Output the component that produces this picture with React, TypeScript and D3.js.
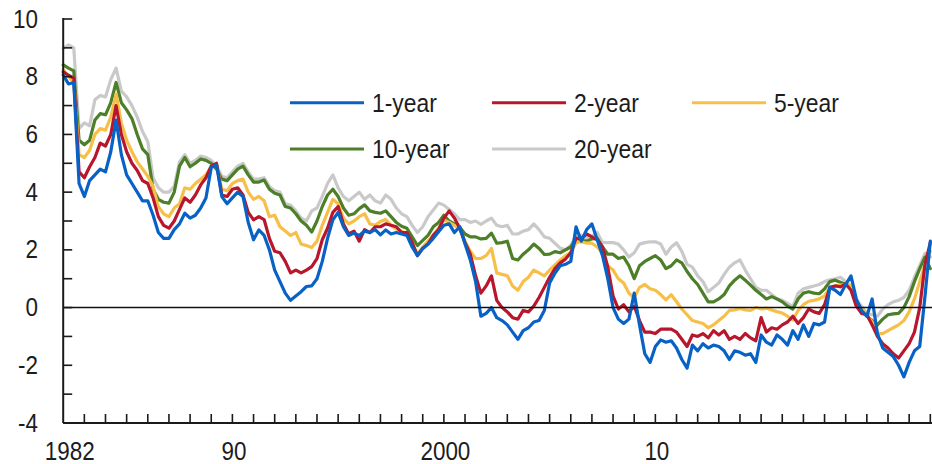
import React from "react";
import * as d3 from "d3";

// Quarterly observations starting 1982 Q1
const START_YEAR = 1982;
const STEP = 0.25;

const oneYear = [
  8.06, 7.75, 7.8, 4.3,
  3.85, 4.4, 4.6, 4.8,
  4.7, 5.4, 6.5, 5.3,
  4.6, 4.3, 4.0, 3.7,
  3.7, 3.2, 2.6, 2.4,
  2.4, 2.7, 2.9, 3.27,
  3.1, 3.2, 3.45, 3.8,
  4.85, 4.95, 3.85, 3.6,
  3.8, 4.0, 3.85, 2.95,
  2.35, 2.69, 2.5, 2.0,
  1.3, 0.9, 0.5, 0.25,
  0.4, 0.55, 0.73, 0.75,
  1.0, 1.6, 2.4, 3.04,
  3.3, 2.8, 2.5, 2.58,
  2.5, 2.65, 2.6, 2.7,
  2.52, 2.69, 2.55, 2.6,
  2.55, 2.5, 2.1, 1.8,
  2.05, 2.2, 2.4, 2.63,
  2.85, 2.9, 2.6, 2.8,
  2.2, 1.65, 0.9, -0.3,
  -0.2, 0.0, -0.35, -0.45,
  -0.6, -0.85, -1.1, -0.8,
  -0.7, -0.5, -0.45, -0.1,
  0.85, 1.19, 1.45, 1.5,
  1.6, 2.8, 2.3, 2.7,
  2.9, 2.35, 1.8, 1.0,
  0.0, -0.4, -0.55, -0.4,
  0.5, -0.6, -1.6, -1.9,
  -1.35, -1.12, -1.2, -1.15,
  -1.4, -1.8, -2.1, -1.3,
  -1.5, -1.25, -1.4, -1.3,
  -1.35, -1.5, -1.8, -1.5,
  -1.55, -1.65, -1.6, -1.9,
  -0.95, -1.2, -1.3, -0.95,
  -1.1, -1.3, -0.8, -1.1,
  -0.6, -1.0, -0.55, -0.6,
  -0.5, 0.7, 0.6, 0.45,
  0.8, 1.1, 0.3, -0.1,
  -0.3, 0.3, -0.9, -1.4,
  -1.55, -1.7, -2.0, -2.4,
  -1.9, -1.5, -1.35, 0.4,
  2.3,
];

const twoYear = [
  8.17, 8.05, 7.95, 4.7,
  4.5, 4.88, 5.2, 5.7,
  5.6, 6.0, 7.0, 6.0,
  5.4, 5.0, 4.75, 4.4,
  4.3, 3.8, 3.15, 2.85,
  2.75, 3.0, 3.4, 3.8,
  3.65, 3.9, 4.25, 4.5,
  4.9, 5.0, 3.9, 3.85,
  4.1, 4.15, 3.9, 3.3,
  3.04, 3.15, 3.05, 2.4,
  1.95, 1.9, 1.6, 1.2,
  1.3, 1.2, 1.3, 1.42,
  1.7, 2.35, 2.75, 3.3,
  3.5, 2.9, 2.55, 2.65,
  2.3, 2.7, 2.6, 2.8,
  2.8, 2.9, 2.85, 2.8,
  2.6, 2.6, 2.25, 1.8,
  2.05, 2.2, 2.5, 2.7,
  3.1, 3.35, 3.1, 2.75,
  2.25, 1.85, 1.1, 0.5,
  0.75, 1.1, 0.25, 0.0,
  -0.15, -0.35, -0.4, -0.1,
  -0.15, 0.05, 0.35, 0.7,
  1.05, 1.35, 1.55, 1.68,
  1.9, 2.4, 2.4, 2.55,
  2.45, 2.35, 2.1, 1.4,
  0.4, -0.05, 0.1, -0.15,
  0.05, -0.45, -0.85, -0.85,
  -0.9, -0.75, -0.75, -0.75,
  -0.85, -1.1, -1.35, -0.95,
  -1.0, -0.9, -1.05, -0.8,
  -0.95, -0.8, -1.1, -1.0,
  -1.1, -0.9, -1.05, -1.15,
  -0.35, -0.85, -0.7, -0.75,
  -0.6, -0.5, -0.3, -0.55,
  -0.35, -0.05, -0.15, -0.2,
  0.1, 0.7, 0.75, 0.72,
  0.82, 0.6, 0.05, -0.2,
  -0.25, -0.6, -1.0, -1.25,
  -1.4, -1.6, -1.75, -1.5,
  -1.25, -0.85, 0.0, 1.5,
  2.25,
];

const fiveYear = [
  8.25, 8.0, 7.8, 5.3,
  5.2, 5.45, 6.0, 6.2,
  6.15, 6.6, 7.4, 6.4,
  5.8, 5.4, 5.05, 4.8,
  4.55, 4.2, 3.5, 3.25,
  3.15, 3.45, 3.6, 4.15,
  4.1, 4.3, 4.45, 4.6,
  4.9, 4.95, 4.1, 4.05,
  4.3, 4.4, 4.45, 4.0,
  3.75, 3.85, 3.7, 3.15,
  3.2, 2.8, 2.65, 2.5,
  2.6, 2.2, 2.15, 2.08,
  2.3, 2.85, 3.3, 3.75,
  3.6, 3.1, 2.9, 3.0,
  3.15, 3.25, 2.9, 2.85,
  2.98, 3.05, 2.85, 2.72,
  2.65, 2.55, 2.2, 1.85,
  2.1, 2.3, 2.52, 2.75,
  3.04, 2.95, 2.85, 2.7,
  2.3, 1.95, 1.7, 1.7,
  1.8, 2.05, 1.2, 1.15,
  1.1, 0.75, 0.6, 0.9,
  1.05, 1.3, 1.2, 1.1,
  1.3, 1.48, 1.65, 1.8,
  1.9, 2.25, 2.28, 2.23,
  2.23, 2.1, 1.9, 1.45,
  1.3, 1.0, 0.85, 0.5,
  0.35, 0.7, 0.8, 0.65,
  0.6, 0.45, 0.27, 0.45,
  0.2, -0.05, -0.25, -0.45,
  -0.5, -0.55, -0.7, -0.6,
  -0.45, -0.3, -0.1, -0.08,
  -0.03, -0.08, -0.1, 0.0,
  -0.05, -0.02, -0.08, -0.14,
  -0.19, -0.3, -0.43, -0.1,
  0.1, 0.22, 0.25, 0.3,
  0.4, 0.7, 0.75, 0.78,
  0.79, 0.75, 0.2, -0.05,
  -0.25, -0.5, -0.9, -0.9,
  -0.8, -0.7, -0.6, -0.45,
  -0.15, 0.3, 0.9, 1.5,
  1.95,
];

const tenYear = [
  8.41, 8.3, 8.2, 5.8,
  5.64, 5.8, 6.5, 6.72,
  6.68, 7.1, 7.8, 7.1,
  6.85, 6.55, 6.0, 5.5,
  5.3, 4.1, 3.75, 3.65,
  3.62, 4.0, 4.9, 5.2,
  4.88, 5.0, 5.15, 5.1,
  5.0, 4.8, 4.45, 4.4,
  4.6, 4.8, 4.9, 4.6,
  4.35, 4.35, 4.42, 4.1,
  3.96, 3.9, 3.5, 3.45,
  3.25, 3.0, 2.85, 2.62,
  3.0, 3.5, 3.9, 4.1,
  3.85, 3.45, 3.2, 3.25,
  3.43, 3.56, 3.35, 3.3,
  3.27, 3.35, 3.15, 2.95,
  2.82, 2.75, 2.45, 2.15,
  2.33, 2.5, 2.8, 2.95,
  3.2, 3.0, 2.9, 2.78,
  2.55, 2.45, 2.45, 2.38,
  2.4, 2.58, 2.23, 2.25,
  2.3, 1.7, 1.65, 1.85,
  2.0, 2.2, 2.05, 1.84,
  1.85, 1.94, 1.9, 2.0,
  2.1, 2.4, 2.33, 2.3,
  2.38, 2.4, 2.1, 1.85,
  1.85, 1.7, 1.75, 1.45,
  1.0, 1.45, 1.6, 1.7,
  1.8, 1.65, 1.35, 1.45,
  1.65, 1.55, 1.25, 1.0,
  0.8, 0.5, 0.2, 0.2,
  0.3, 0.45, 0.75, 0.95,
  1.1, 0.95, 0.78, 0.6,
  0.45, 0.3, 0.38, 0.3,
  0.2, 0.05, -0.05, 0.3,
  0.5, 0.55, 0.5, 0.48,
  0.65, 0.9, 0.95, 0.88,
  0.8, 0.7, 0.15, -0.05,
  -0.3, -0.45, -0.6, -0.4,
  -0.25, -0.22, -0.2, 0.0,
  0.38, 0.9, 1.35, 1.75,
  1.35,
];

const twentyYear = [
  8.98, 9.1, 9.0, 6.2,
  6.4, 6.3, 7.2, 7.35,
  7.3, 7.9, 8.3, 7.5,
  7.3, 7.0, 6.6, 6.1,
  5.75, 4.5, 4.15, 4.0,
  4.0, 4.2, 5.05, 5.3,
  5.0, 5.1, 5.25, 5.2,
  5.1, 4.9, 4.55, 4.5,
  4.7, 4.9, 5.0, 4.7,
  4.45, 4.45, 4.5, 4.2,
  4.05, 4.0, 3.6, 3.55,
  3.35, 3.1, 3.0, 3.35,
  3.45, 3.85, 4.3, 4.6,
  4.15, 3.85, 3.7, 3.85,
  4.0, 3.75, 3.9, 3.7,
  3.62, 3.9, 3.75, 3.45,
  3.25, 3.15, 2.85, 2.6,
  2.8, 3.15, 3.38, 3.62,
  3.55, 3.4, 3.25, 3.05,
  3.05, 2.95, 3.0, 2.88,
  3.0, 3.1, 2.85, 2.8,
  2.85, 2.55, 2.55, 2.65,
  2.7, 2.9, 2.7, 2.45,
  2.4, 2.23, 2.06, 2.0,
  2.15, 2.5, 2.5, 2.4,
  2.48, 2.6, 2.25, 2.25,
  2.25, 2.2, 2.0, 1.75,
  1.9, 2.2, 2.25, 2.28,
  2.28, 2.2, 1.85, 2.1,
  2.25, 1.95, 1.5, 1.4,
  1.1, 0.9, 0.55, 0.7,
  0.85, 1.15, 1.4, 1.55,
  1.65, 1.3, 1.0, 0.7,
  0.6, 0.6, 0.45, 0.3,
  0.25, 0.15, 0.03, 0.5,
  0.65, 0.7, 0.75, 0.8,
  0.9, 0.96, 1.0, 1.05,
  0.9, 0.75, 0.25, 0.05,
  -0.2, -0.25, -0.3, -0.05,
  0.1, 0.2, 0.25, 0.35,
  0.6, 1.05, 1.45, 1.88,
  1.75,
];

const seriesNames = ["1-year", "2-year", "5-year", "10-year", "20-year"];
const seriesValues = [oneYear, twoYear, fiveYear, tenYear, twentyYear];
const seriesColors = ["#0862c6", "#b8162d", "#f8bf48", "#4c7f27", "#c9c9c9"];

const yTickValues = d3.range(-4, 11, 1);
const yLabelValues = [-4, -2, 0, 2, 4, 6, 8, 10];
const xTickYears = d3.range(1983, 2024, 1);
const xLabelYears = [1982, 1990, 2000, 2010];
const xLabelTexts = ["1982", "90", "2000", "10"];

const W = 932;
const H = 464;
const FONT = "'Liberation Sans', Arial, Helvetica, sans-serif";
const TEXT_COLOR = "#1c1c1c";
const SX = 0.88;

export default function App() {
  const x = d3.scaleLinear().domain([1982, 2023]).range([63.2, 930.3]);
  const y = d3.scaleLinear().domain([-4, 10]).range([423, 19]);

  const line = d3
    .line<number>()
    .x((_, i) => x(START_YEAR + i * STEP))
    .y((d) => y(d));

  // draw order: 20-year at bottom, 1-year on top
  const drawOrder = [4, 3, 2, 1, 0];

  const legendRows = [
    { idx: 0, lx: 290, row: 0 },
    { idx: 1, lx: 492, row: 0 },
    { idx: 2, lx: 692, row: 0 },
    { idx: 3, lx: 290, row: 1 },
    { idx: 4, lx: 492, row: 1 },
  ];
  const rowY = [102.7, 149];

  const axisX = x(1982);
  const axisY = y(-4);

  return (
    <svg
      width={W}
      height={H}
      viewBox={`0 0 ${W} ${H}`}
      style={{ position: "absolute", left: 0, top: 0, background: "#fff" }}
    >
      <rect x={0} y={0} width={W} height={H} fill="#fff" />

      {/* series lines */}
      <g fill="none" strokeLinejoin="round" strokeLinecap="round">
        {drawOrder.map((k) => (
          <path
            key={seriesNames[k]}
            d={line(seriesValues[k]) || ""}
            stroke={seriesColors[k]}
            strokeWidth={3.2}
          />
        ))}
      </g>

      {/* zero line */}
      <line x1={axisX} x2={W} y1={y(0)} y2={y(0)} stroke="#111" strokeWidth={1.6} />

      {/* y axis */}
      <line x1={axisX} x2={axisX} y1={y(10) - 1} y2={axisY} stroke="#1a1a1a" strokeWidth={2} />
      {yTickValues.map((v) => (
        <line key={"yt" + v} x1={axisX} x2={axisX + 9} y1={y(v)} y2={y(v)} stroke="#1a1a1a" strokeWidth={1.6} />
      ))}
      {yLabelValues.map((v) => (
        <text
          key={"yl" + v}
          transform={`translate(38,${y(v) + 8.5}) scale(${SX},1)`}
          textAnchor="end"
          fontFamily={FONT}
          fontSize={25.5}
          fill={TEXT_COLOR}
        >
          {String(v)}
        </text>
      ))}

      {/* x axis */}
      <line x1={axisX} x2={W} y1={axisY} y2={axisY} stroke="#1a1a1a" strokeWidth={2} />
      {xTickYears.map((yr) => (
        <line key={"xt" + yr} x1={x(yr)} x2={x(yr)} y1={axisY} y2={axisY - 9} stroke="#1a1a1a" strokeWidth={1.6} />
      ))}
      {xLabelYears.map((yr, i) => (
        <text
          key={"xl" + yr}
          transform={`translate(${x(yr) + (i === 0 ? 6.5 : 1.5)},460) scale(${SX},1)`}
          textAnchor="middle"
          fontFamily={FONT}
          fontSize={25.5}
          fill={TEXT_COLOR}
        >
          {xLabelTexts[i]}
        </text>
      ))}

      {/* legend */}
      {legendRows.map((r) => (
        <g key={"lg" + r.idx}>
          <line
            x1={r.lx}
            x2={r.lx + 74}
            y1={rowY[r.row]}
            y2={rowY[r.row]}
            stroke={seriesColors[r.idx]}
            strokeWidth={3}
          />
          <text
            transform={`translate(${r.lx + 82},${rowY[r.row] + 9.3}) scale(${SX},1)`}
            fontFamily={FONT}
            fontSize={26}
            fill={TEXT_COLOR}
          >
            {seriesNames[r.idx]}
          </text>
        </g>
      ))}
    </svg>
  );
}
